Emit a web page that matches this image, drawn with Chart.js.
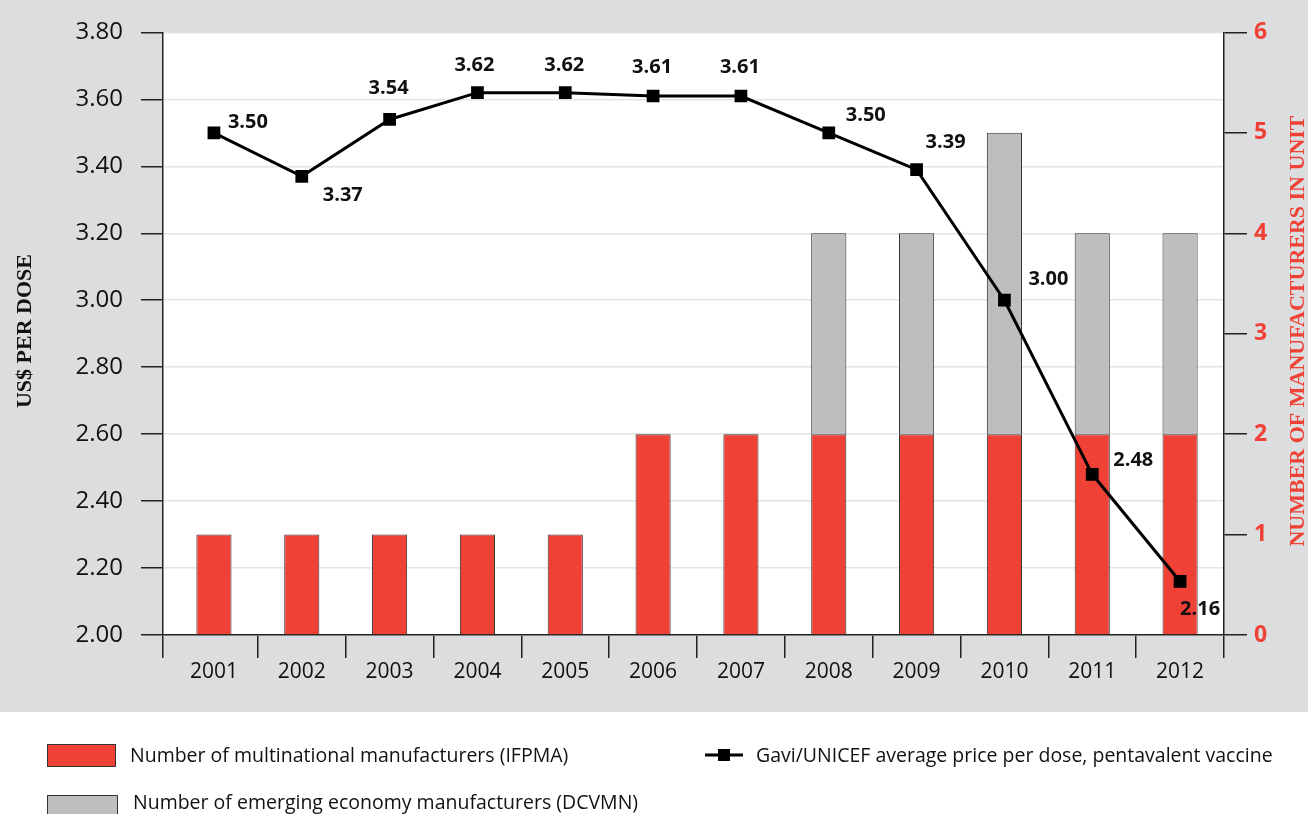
<!DOCTYPE html>
<html>
<head>
<meta charset="utf-8">
<script src="https://cdn.jsdelivr.net/npm/chart.js@4/dist/chart.umd.min.js"></script>
<style>
  html, body { margin: 0; padding: 0; background: #fff; }
  canvas { display: block; }
</style>
</head>
<body>
<canvas id="myChart" width="1308" height="814"></canvas>
<script>
// Chart data
const years = ['2001', '2002', '2003', '2004', '2005', '2006', '2007', '2008', '2009', '2010', '2011', '2012'];
const ifpma = [1, 1, 1, 1, 1, 2, 2, 2, 2, 2, 2, 2];
const dcvmn = [0, 0, 0, 0, 0, 0, 0, 2, 2, 3, 2, 2];
const price = [3.50, 3.37, 3.54, 3.62, 3.62, 3.61, 3.61, 3.50, 3.39, 3.00, 2.48, 2.16];
const priceTicks = [2.00, 2.20, 2.40, 2.60, 2.80, 3.00, 3.20, 3.40, 3.60, 3.80];
const countTicks = [0, 1, 2, 3, 4, 5, 6];

// where each price label sits relative to its marker (px)
const labelOffsets = [[34, -11], [41, 19], [-1, -31], [-3, -27], [-1, -27], [-1, -29], [-1, -29],
                      [37, -18], [29, -27], [44, -21], [41, -14], [20, 28]];

const RED = '#ef4136';
const GREY = '#bcbec0';
const BG = '#dcdddf';
const FONT = "'Open Sans', sans-serif";

const toXY = arr => arr.map((v, i) => ({ x: i, y: v }));

// background, plot area, titles and legend
const decorPlugin = {
    id: 'decor',
    beforeDraw(chart) {
        const { ctx, chartArea: a } = chart;
        ctx.save();
        ctx.fillStyle = '#fff';
        ctx.fillRect(0, 0, chart.width, chart.height);
        ctx.fillStyle = BG;
        ctx.fillRect(0, 0, chart.width, 712);
        ctx.fillStyle = '#fff';
        ctx.fillRect(a.left, a.top, a.right - a.left, a.bottom - a.top);
        ctx.restore();
    },
    afterDraw(chart) {
        const ctx = chart.ctx;
        ctx.save();
        // axis titles
        ctx.font = "bold 22px 'Liberation Serif', serif";
        ctx.textAlign = 'center';
        ctx.textBaseline = 'middle';
        ctx.save();
        ctx.translate(25, 331);
        ctx.rotate(-Math.PI / 2);
        ctx.fillStyle = '#111';
        ctx.fillText('US$ PER DOSE', 0, 0);
        ctx.restore();
        ctx.save();
        ctx.translate(1298, 331);
        ctx.rotate(-Math.PI / 2);
        ctx.fillStyle = RED;
        ctx.fillText('NUMBER OF MANUFACTURERS IN UNIT', 0, 0);
        ctx.restore();

        // legend
        ctx.lineWidth = 1;
        ctx.strokeStyle = '#333';
        ctx.fillStyle = RED;
        ctx.fillRect(47, 744, 68, 22);
        ctx.strokeRect(47.5, 744.5, 68, 22);
        ctx.fillStyle = GREY;
        ctx.fillRect(47, 795, 70, 22);
        ctx.strokeRect(47.5, 795.5, 70, 22);

        ctx.strokeStyle = '#000';
        ctx.lineWidth = 3;
        ctx.beginPath();
        ctx.moveTo(705, 755);
        ctx.lineTo(743, 755);
        ctx.stroke();
        ctx.fillStyle = '#000';
        ctx.fillRect(718, 749, 12, 12);

        ctx.font = '19.5px ' + FONT;
        ctx.textAlign = 'left';
        ctx.fillStyle = '#111';
        ctx.fillText('Number of multinational manufacturers (IFPMA)', 130, 756);
        ctx.fillText('Number of emerging economy manufacturers (DCVMN)', 133, 803);
        ctx.fillText('Gavi/UNICEF average price per dose, pentavalent vaccine', 756, 756);
        ctx.restore();
    }
};

// price labels next to the markers
const priceLabels = {
    id: 'priceLabels',
    afterDatasetsDraw(chart) {
        const ctx = chart.ctx;
        const meta = chart.getDatasetMeta(0);
        ctx.save();
        ctx.font = 'bold 20px ' + FONT;
        ctx.fillStyle = '#111';
        ctx.textAlign = 'center';
        ctx.textBaseline = 'middle';
        meta.data.forEach((pt, i) => {
            const [dx, dy] = labelOffsets[i];
            ctx.fillText(price[i].toFixed(2), pt.x + dx, pt.y + dy);
        });
        ctx.restore();
    }
};

const ctx = document.getElementById('myChart').getContext('2d');
const myChart = new Chart(ctx, {
    type: 'bar',
    data: {
        datasets: [{
            type: 'line',
            label: 'Gavi/UNICEF average price per dose, pentavalent vaccine',
            data: toXY(price),
            yAxisID: 'y',
            xAxisID: 'x',
            order: 0,
            borderColor: '#000',
            borderWidth: 3,
            tension: 0,
            pointStyle: 'rect',
            pointRadius: 9,
            pointBorderWidth: 0,
            pointBackgroundColor: '#000'
        }, {
            label: 'Number of multinational manufacturers (IFPMA)',
            data: toXY(ifpma),
            yAxisID: 'y1',
            xAxisID: 'x',
            order: 1,
            backgroundColor: RED,
            borderColor: '#333',
            borderWidth: 1,
            barPercentage: 0.4,
            categoryPercentage: 1
        }, {
            label: 'Number of emerging economy manufacturers (DCVMN)',
            data: toXY(dcvmn),
            yAxisID: 'y1',
            xAxisID: 'x',
            order: 2,
            backgroundColor: GREY,
            borderColor: '#333',
            borderWidth: 1,
            barPercentage: 0.4,
            categoryPercentage: 1
        }]
    },
    options: {
        responsive: false,
        animation: false,
        layout: { padding: { top: 28, left: 0, right: 0, bottom: 0 } },
        plugins: {
            legend: { display: false },
            tooltip: { enabled: false }
        },
        scales: {
            // tick marks between the years
            x: {
                type: 'linear',
                position: 'bottom',
                stacked: true,
                offset: false,
                min: -0.58,
                max: 11.5,
                afterBuildTicks: scale => {
                    scale.ticks = [{ value: -0.58 }].concat(years.map((y, i) => ({ value: i + 0.5 })));
                },
                afterFit: scale => { scale.height = 23; },
                ticks: { display: false },
                grid: { offset: false, drawOnChartArea: false, tickLength: 23, color: '#222', lineWidth: 1.5 },
                border: { color: '#222', width: 1.5 }
            },
            // year labels
            xLabels: {
                type: 'linear',
                position: 'bottom',
                offset: false,
                min: -0.58,
                max: 11.5,
                afterBuildTicks: scale => {
                    scale.ticks = years.map((y, i) => ({ value: i }));
                },
                afterFit: scale => { scale.height = 156; },
                ticks: {
                    callback: v => years[v],
                    font: { family: FONT, size: 21 },
                    color: '#111',
                    padding: -7,
                    maxRotation: 0,
                    autoSkip: false
                },
                grid: { display: false, offset: false },
                border: { display: false }
            },
            y: {
                position: 'left',
                min: 2,
                max: 3.8,
                afterBuildTicks: scale => {
                    scale.ticks = priceTicks.map(v => ({ value: v }));
                },
                afterFit: scale => { scale.width = 163; },
                ticks: {
                    callback: v => v.toFixed(2),
                    font: { family: FONT, size: 24 },
                    color: '#111',
                    padding: 18
                },
                grid: { color: '#e4e4e4', lineWidth: 1.5, tickColor: '#222', tickLength: 22 },
                border: { color: '#222', width: 1.5 }
            },
            y1: {
                position: 'right',
                stacked: true,
                min: 0,
                max: 6,
                afterBuildTicks: scale => {
                    scale.ticks = countTicks.map(v => ({ value: v }));
                },
                afterFit: scale => { scale.width = 84; },
                ticks: {
                    font: { family: FONT, size: 23, weight: 'bold' },
                    color: RED,
                    padding: 7
                },
                grid: { drawOnChartArea: false, color: '#222', lineWidth: 1.5, tickLength: 23 },
                border: { color: '#222', width: 1.5 }
            }
        }
    },
    plugins: [decorPlugin, priceLabels]
});
</script>
</body>
</html>
